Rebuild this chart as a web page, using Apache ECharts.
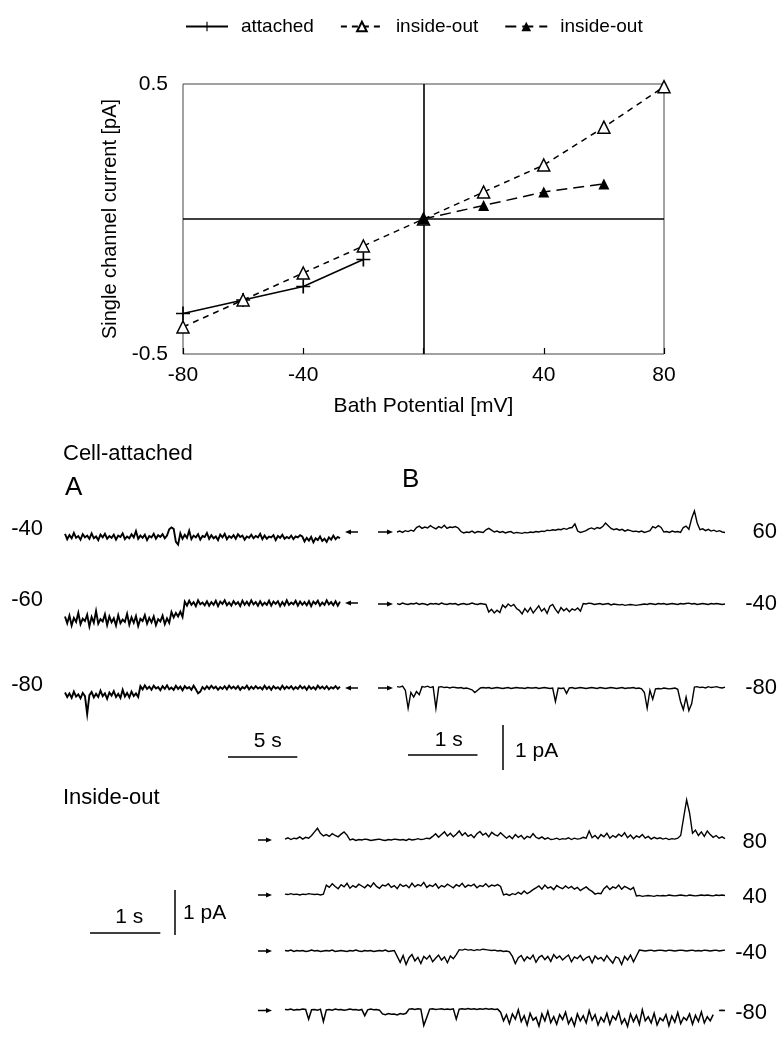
<!DOCTYPE html>
<html><head><meta charset="utf-8">
<script src="https://cdn.jsdelivr.net/npm/echarts@6/dist/echarts.min.js"></script>
<style>html,body{margin:0;padding:0;background:#fff}#c{width:781px;height:1045px}</style>
</head><body><div id="c"></div>
<script>
// ---------- I/V plot data ----------
const ivPotential = [-80,-60,-40,-20,0,20,40,60,80];
const attachedPotential = [-80,-60,-40,-20];
const attachedCurrent = [-0.35,-0.30,-0.25,-0.15];
const insideOutOpenCurrent = [-0.40,-0.30,-0.20,-0.10,0,0.10,0.20,0.34,0.49];
const insideOutFilledPotential = [0,20,40,60];
const insideOutFilledCurrent = [0,0.05,0.10,0.13];
const ivXTickLabels = [-80,-40,40,80];
const ivYTickLabels = [-0.5,0.5];

// ---------- single-channel traces (pA, relative to closed level) ----------
const dtA = 0.16;   // s per sample, panel A
const dtB = 0.04;   // s per sample, panel B
const dtIO = 0.042; // s per sample, inside-out

const traceA_m40 = [-0.04,-0.16,-0.07,-0.14,-0.02,-0.13,-0.09,-0.17,-0.05,-0.12,-0.08,-0.15,-0.03,-0.14,-0.1,-0.18,-0.06,-0.12,-0.04,-0.15,-0.09,-0.13,-0.06,-0.17,-0.08,-0.11,-0.03,-0.16,-0.1,-0.14,-0.05,-0.12,0.02,-0.15,-0.08,-0.13,-0.06,-0.18,-0.09,-0.12,-0.04,-0.15,-0.07,-0.11,-0.05,-0.14,-0.08,
0.06,0.1,0.07,-0.22,-0.28,
-0.03,-0.15,-0.06,-0.13,0.03,-0.16,-0.08,-0.12,-0.05,-0.17,-0.09,-0.11,-0.02,-0.15,-0.07,-0.14,-0.1,-0.18,-0.06,-0.12,-0.04,-0.16,-0.09,-0.13,-0.07,-0.15,-0.05,-0.11,-0.08,-0.17,-0.1,-0.13,-0.06,-0.14,-0.09,-0.12,-0.04,-0.16,-0.08,-0.15,-0.1,-0.12,-0.07,-0.18,-0.09,-0.13,-0.06,-0.15,-0.11,-0.14,-0.08,-0.16,-0.1,-0.12,-0.07,
-0.1,-0.21,-0.13,-0.19,-0.11,-0.23,-0.14,-0.18,-0.1,-0.2,-0.15,-0.22,-0.12,-0.17,-0.08,-0.16,-0.11,-0.14];
const traceA_m60 = [-0.3,-0.45,-0.28,-0.5,-0.33,-0.42,-0.22,-0.47,-0.35,-0.4,-0.26,-0.52,-0.31,-0.44,-0.18,-0.46,-0.36,-0.41,-0.25,-0.49,-0.3,-0.43,-0.34,-0.5,-0.27,-0.45,-0.37,-0.42,-0.24,-0.48,-0.32,-0.44,-0.29,-0.51,-0.35,-0.4,-0.27,-0.46,-0.33,-0.43,-0.3,-0.49,-0.36,-0.41,-0.28,-0.47,-0.34,-0.44,
-0.2,-0.32,-0.22,-0.3,-0.19,-0.31,
0.03,-0.06,0.05,-0.04,0.02,-0.07,0.06,-0.03,0.01,-0.05,0.04,-0.06,0.02,-0.04,0.05,-0.07,0.03,-0.02,0.06,-0.05,0.01,-0.06,0.04,-0.03,0.02,-0.07,0.05,-0.04,0.03,-0.05,0.06,-0.03,0.02,-0.06,0.04,-0.05,0.01,-0.04,0.05,-0.06,0.03,-0.02,0.04,-0.07,0.02,-0.05,0.06,-0.04,0.01,-0.03,0.05,-0.06,0.03,-0.04,0.02,-0.05,0.04,-0.07,0.03,-0.02,0.05,-0.06,0.01,-0.04,0.06,-0.03,0.02,-0.05,0.04,-0.06,0.03];
const traceA_m80 = [-0.1,-0.2,-0.12,-0.22,-0.08,-0.19,-0.14,-0.23,-0.11,-0.18,-0.58,-0.16,-0.09,-0.21,-0.13,-0.2,-0.06,-0.18,-0.12,-0.24,-0.1,-0.17,-0.07,-0.2,-0.13,-0.22,-0.04,-0.19,-0.11,-0.21,-0.08,-0.18,-0.12,-0.2,
0.04,-0.03,0.06,-0.02,0.03,-0.04,0.05,-0.01,0.02,-0.05,0.04,-0.02,0.06,-0.03,0.01,-0.04,0.05,-0.02,0.03,-0.05,0.04,-0.01,0.02,-0.04,0.05,-0.03,-0.12,-0.08,0.02,-0.03,0.04,-0.02,0.05,-0.01,0.03,-0.04,0.02,-0.02,0.04,-0.03,0.05,-0.01,0.03,-0.02,0.04,-0.04,0.02,-0.01,0.05,-0.03,0.03,-0.02,0.04,-0.01,0.02,-0.03,0.05,-0.02,0.03,-0.04,0.04,-0.01,0.02,-0.03,0.05,-0.02,0.03,-0.01,0.04,-0.03,0.02,-0.02,0.05,-0.01,0.03,-0.04,0.04,-0.02,0.02,-0.03,0.05,-0.01,0.03,-0.02,0.04,-0.03,0.02,-0.01,0.04,-0.02,0.03];

const traceB_60 = [0.0,0.02,-0.01,0.03,0.01,0.04,0.02,
0.10,0.13,0.08,0.11,0.09,0.14,0.10,0.07,0.12,0.09,0.15,0.08,0.11,0.10,0.12,0.09,
0.01,-0.02,0.0,-0.01,0.02,-0.02,0.01,0.0,-0.01,
0.05,0.08,0.04,
0.0,0.02,-0.01,0.01,-0.02,0.0,0.01,-0.03,-0.01,-0.02,-0.03,-0.01,-0.02,0.0,-0.01,0.01,0.0,
0.02,0.01,0.04,0.03,0.05,0.04,0.06,0.05,0.08,0.06,0.09,0.1,0.18,
0.02,-0.01,0.01,0.03,
0.07,0.09,0.06,0.1,0.08,0.12,0.2,0.14,
0.08,0.05,0.07,0.04,0.06,0.02,0.05,0.03,0.01,0.02,0.0,0.02,-0.01,0.01,0.03,
0.12,0.09,0.14,0.1,
0.0,0.01,-0.01,0.02,0.0,0.01,-0.01,
0.1,0.13,0.06,
0.3,0.47,0.2,
0.05,0.07,0.03,0.06,0.02,0.04,0.01,0.03,0.0,-0.01];
const traceB_m40 = [0.01,-0.01,0.02,0.0,-0.01,0.01,0.0,0.02,-0.01,0.01,0.0,-0.02,0.01,0.0,0.01,-0.01,0.02,0.0,-0.01,0.01,0.0,0.01,-0.02,0.0,0.01,-0.01,0.0,0.02,0.0,-0.01,0.01,0.0,-0.01,
-0.18,-0.12,-0.2,-0.14,-0.19,
-0.02,-0.08,0.0,-0.05,-0.01,-0.1,
-0.14,-0.22,-0.1,-0.18,-0.08,-0.2,-0.12,-0.04,-0.16,-0.1,-0.21,
-0.05,-0.01,
-0.12,-0.2,-0.08,-0.15,-0.1,-0.17,-0.11,-0.14,-0.09,-0.16,
0.01,0.0,0.02,0.01,-0.01,0.0,0.01,-0.01,0.0,0.01,-0.02,0.0,-0.01,-0.02,-0.01,-0.03,-0.02,-0.01,-0.02,-0.03,-0.02,-0.01,0.0,-0.01,0.01,0.0,-0.01,0.01,0.0,0.01,-0.01,0.0,0.01,0.0,-0.01,0.01,0.0,0.01,0.02,0.0,0.01,-0.01,0.0,0.01,0.0,-0.01,0.01,0.0,0.01,0.0,-0.01,0.0];
const traceB_m80 = [0.03,0.02,0.04,-0.05,-0.45,-0.1,-0.2,-0.08,-0.15,
0.03,0.02,0.04,0.01,0.03,-0.45,
0.02,0.03,0.01,0.02,0.0,0.02,0.01,0.0,0.01,-0.01,0.0,-0.02,-0.04,-0.1,-0.05,
0.0,0.01,0.0,0.01,-0.01,0.0,0.01,0.0,-0.01,0.0,0.01,-0.01,0.0,0.01,0.0,0.0,-0.01,0.01,0.0,0.0,0.01,-0.01,0.0,0.01,0.0,-0.01,0.0,
-0.3,0.0,-0.01,0.0,-0.12,
0.0,0.01,-0.01,0.0,0.01,0.0,-0.01,0.0,0.01,0.0,-0.01,0.01,0.0,-0.01,0.0,0.01,0.0,-0.01,0.0,0.01,-0.01,0.0,0.0,0.01,-0.01,0.0,-0.02,
-0.1,-0.45,-0.05,-0.25,
-0.02,-0.01,-0.02,0.0,-0.01,-0.02,-0.01,0.0,-0.03,
-0.3,-0.48,-0.2,-0.5,-0.35,
0.02,0.03,0.01,0.02,0.0,0.03,0.01,0.02,0.03,0.01,0.0,0.02];

const traceIO_80 = [0.02,0.05,0.01,0.04,0.03,0.07,0.02,0.06,0.04,
0.1,0.18,0.26,0.15,0.09,
0.12,0.08,0.14,0.1,0.07,0.13,0.18,0.11,
0.0,0.02,-0.01,0.01,0.0,0.02,0.01,-0.01,0.0,0.01,0.02,0.0,-0.01,0.01,0.0,0.02,0.01,0.0,0.01,-0.01,0.02,0.0,0.01,0.03,0.01,0.02,0.04,0.03,
0.08,0.14,0.06,0.12,0.18,0.09,0.15,0.07,0.13,0.2,0.1,0.16,0.08,0.12,0.05,0.14,0.19,0.11,0.15,0.07,0.17,0.12,0.09,0.16,0.1,
0.04,0.09,0.03,0.12,0.06,0.1,0.02,0.08,0.05,0.14,0.06,0.03,0.07,0.02,0.05,0.01,
0.02,0.04,0.01,0.03,0.02,0.05,0.01,0.04,0.02,0.03,0.06,0.04,0.2,
0.05,0.1,0.03,0.12,0.07,0.15,0.04,0.1,0.06,0.13,0.08,0.16,0.05,0.11,0.03,0.09,0.06,0.12,0.04,0.08,0.02,0.06,0.03,0.05,0.02,0.04,0.01,0.03,0.02,0.04,
0.1,0.5,0.89,0.6,
0.15,0.22,0.1,0.18,0.08,0.2,0.12,0.06,0.1,0.04,0.07,0.03];
const traceIO_40 = [0.02,0.01,0.03,0.01,0.02,0.0,0.02,0.01,0.03,0.02,0.01,0.02,0.0,0.02,
0.22,0.17,0.25,0.19,0.14,0.23,0.18,0.26,0.15,0.21,0.17,0.24,0.2,0.16,0.23,0.18,0.27,0.19,0.15,0.22,0.2,0.25,0.17,0.21,0.14,0.24,0.19,0.22,0.16,0.26,0.18,0.23,0.2,0.28,0.17,0.22,0.19,0.25,0.15,0.21,0.18,0.24,0.2,0.16,0.23,0.19,0.26,0.17,0.22,0.2,0.24,0.16,0.21,0.19,0.25,0.18,0.22,0.2,0.23,0.19,
0.0,0.02,-0.01,0.03,0.01,0.06,0.02,0.09,0.03,0.07,0.12,
0.16,0.2,0.13,0.22,0.15,0.18,0.12,0.21,0.17,0.14,0.2,0.15,0.19,0.13,0.17,0.1,0.14,0.18,0.12,0.08,
0.02,0.04,0.03,
0.14,0.2,0.12,0.18,0.15,0.22,0.13,0.19,0.16,0.12,0.17,
-0.02,-0.01,-0.03,-0.02,-0.01,-0.02,-0.03,-0.01,-0.02,-0.01,-0.02,0.0,-0.01,-0.02,-0.01,0.0,-0.01,-0.02,0.0,-0.01,-0.02,-0.01,0.0,-0.01,0.0,-0.01,-0.02,0.0,-0.01,0.0,-0.01];
const traceIO_m40 = [0.01,0.0,0.02,-0.01,0.01,0.0,0.01,-0.01,0.0,0.02,0.0,0.01,-0.01,0.0,0.01,0.0,0.02,-0.01,0.0,0.01,0.0,-0.01,0.01,0.0,0.02,0.0,-0.01,0.01,0.0,0.01,-0.01,0.0,0.01,0.0,0.02,-0.01,0.0,0.01,
-0.12,-0.25,-0.1,-0.3,-0.15,-0.08,-0.22,-0.14,-0.28,-0.12,-0.18,-0.1,-0.24,-0.16,-0.09,-0.2,-0.13,-0.26,-0.11,-0.17,-0.08,
0.03,0.02,0.04,0.02,0.03,0.01,0.03,0.02,0.04,0.03,0.02,0.01,0.02,0.0,0.01,-0.01,0.0,-0.02,
-0.12,-0.28,-0.15,-0.1,-0.22,-0.13,-0.18,-0.09,-0.25,-0.14,-0.1,-0.19,-0.12,-0.23,-0.08,-0.16,-0.11,-0.2,-0.14,-0.09,-0.24,-0.13,-0.17,-0.1,-0.21,-0.15,-0.12,-0.26,-0.11,-0.18,-0.14,-0.22,-0.1,-0.19,-0.27,-0.13,-0.16,-0.3,-0.12,-0.2,-0.09,-0.24,-0.11,
0.02,0.01,0.0,0.01,0.02,0.0,0.01,0.02,0.01,0.0,0.02,0.01,0.0,0.01,0.02,0.01,0.0,0.01,0.02,0.0,0.01,0.0,0.02,0.01,0.0,0.01,0.02,0.0,0.01,0.02];
const traceIO_m80 = [0.03,0.02,0.04,0.01,0.03,0.02,0.04,0.03,-0.25,0.02,0.03,0.01,0.04,-0.32,0.02,0.03,0.01,0.04,0.02,0.03,0.01,0.02,0.04,0.02,0.03,0.01,0.03,-0.15,0.02,0.04,0.02,0.03,0.01,
-0.1,-0.12,-0.09,-0.11,-0.1,-0.13,-0.09,-0.11,-0.08,
0.04,0.05,0.03,0.05,0.04,
-0.43,-0.2,
0.04,0.05,0.03,0.04,0.05,0.03,0.04,0.03,0.05,
-0.25,
0.04,0.05,0.04,0.06,0.04,0.05,0.03,0.05,0.04,0.06,0.04,0.05,0.03,0.04,
-0.05,-0.3,-0.12,-0.38,-0.1,-0.25,0.02,-0.32,-0.15,-0.42,-0.08,-0.28,-0.2,-0.45,-0.1,-0.3,-0.02,-0.35,-0.18,-0.4,-0.12,-0.26,-0.05,-0.38,-0.22,-0.44,-0.1,-0.3,-0.15,-0.36,0.0,-0.28,-0.12,-0.42,-0.2,-0.33,-0.08,-0.4,-0.16,-0.27,-0.04,-0.38,-0.24,-0.46,-0.1,-0.32,-0.14,-0.4,0.02,-0.3,-0.18,-0.36,-0.08,-0.42,-0.22,-0.3,-0.12,-0.44,-0.16,-0.34,-0.06,-0.38,-0.2,-0.28,-0.1,-0.4,-0.14,-0.32,-0.04,-0.36,-0.18,-0.3,-0.12,
null,0.0,0.01,0.0];

// ---------- layout ----------
const FONT = '"Liberation Sans", Arial, Helvetica, sans-serif';
const PA_PX = 45; // half-height of each trace grid (1 pA)
const traces = [
  {data: traceA_m40, dt: dtA, left: 65,  width: 275, base: 532, label: '-40', side: 'A', lw: 1.9},
  {data: traceA_m60, dt: dtA, left: 65,  width: 275, base: 603, label: '-60', side: 'A', lw: 1.9},
  {data: traceA_m80, dt: dtA, left: 65,  width: 275, base: 688, label: '-80', side: 'A', lw: 1.9},
  {data: traceB_60,  dt: dtB, left: 397, width: 328, base: 532, label: '60',  side: 'B', lw: 1.4},
  {data: traceB_m40, dt: dtB, left: 397, width: 328, base: 604, label: '-40', side: 'B', lw: 1.4},
  {data: traceB_m80, dt: dtB, left: 397, width: 328, base: 688, label: '-80', side: 'B', lw: 1.4},
  {data: traceIO_80,  dt: dtIO, left: 285, width: 440, base: 840, label: '80',  side: 'IO', lw: 1.4},
  {data: traceIO_40,  dt: dtIO, left: 285, width: 440, base: 895, label: '40',  side: 'IO', lw: 1.4},
  {data: traceIO_m40, dt: dtIO, left: 285, width: 440, base: 951, label: '-40', side: 'IO', lw: 1.4},
  {data: traceIO_m80, dt: dtIO, left: 285, width: 440, base: 1021, label: '-80', side: 'IO', lw: 1.5}
];

const plusPath = 'path://M4.4,0H5.6V4.4H10V5.6H5.6V10H4.4V5.6H0V4.4H4.4Z';

const grids = [{left: 183, top: 84, width: 481, height: 270, show: true, borderColor: '#444', borderWidth: 1, backgroundColor: 'transparent'}];
const xAxes = [{
  gridIndex: 0, type: 'value', min: -80, max: 80, interval: 40,
  axisLine: {show: false, onZero: false}, splitLine: {show: false},
  axisTick: {show: true, inside: true, length: 6, lineStyle: {color: '#000', width: 1.2}},
  axisLabel: {color: '#000', fontSize: 21, fontFamily: FONT, margin: 11,
    formatter: v => ivXTickLabels.includes(v) ? String(v) : ''},
  name: 'Bath Potential [mV]', nameLocation: 'middle', nameGap: 42,
  nameTextStyle: {color: '#000', fontSize: 21, fontFamily: FONT}
}];
const yAxes = [{
  gridIndex: 0, type: 'value', min: -0.5, max: 0.5, interval: 0.5,
  axisLine: {show: false, onZero: false}, splitLine: {show: false}, axisTick: {show: false},
  axisLabel: {color: '#000', fontSize: 21, fontFamily: FONT, margin: 15,
    formatter: v => ivYTickLabels.includes(v) ? String(v) : ''},
  name: 'Single channel current [pA]', nameLocation: 'middle', nameGap: 62, nameRotate: 90,
  nameTextStyle: {color: '#000', fontSize: 20, fontFamily: FONT}
}];
const series = [
  {name: 'attached', type: 'line', xAxisIndex: 0, yAxisIndex: 0,
   data: attachedPotential.map((x, i) => [x, attachedCurrent[i]]),
   symbol: plusPath, symbolSize: 14, itemStyle: {color: '#000'},
   lineStyle: {color: '#000', width: 1.5, type: 'solid'}, z: 4,
   markLine: {silent: true, symbol: 'none', label: {show: false}, animation: false,
     lineStyle: {color: '#000', width: 1.6, type: 'solid'},
     data: [{xAxis: 0}, {yAxis: 0}]}},
  {name: 'inside-out', type: 'line', xAxisIndex: 0, yAxisIndex: 0,
   data: ivPotential.map((x, i) => [x, insideOutOpenCurrent[i]]),
   symbol: 'triangle', symbolSize: 12, z: 5,
   itemStyle: {color: '#fff', borderColor: '#000', borderWidth: 1.5},
   lineStyle: {color: '#000', width: 1.5, type: [6, 5]}},
  {name: 'inside-out ', type: 'line', xAxisIndex: 0, yAxisIndex: 0,
   data: insideOutFilledPotential.map((x, i) => [x, insideOutFilledCurrent[i]]),
   symbol: 'triangle', symbolSize: 11, z: 6,
   itemStyle: {color: '#000'},
   lineStyle: {color: '#000', width: 1.5, type: [11, 6]}}
];

traces.forEach((tr, k) => {
  const gi = k + 1;
  grids.push({left: tr.left, width: tr.width, top: tr.base - PA_PX, height: 2 * PA_PX});
  xAxes.push({gridIndex: gi, type: 'value', min: 0, max: 'dataMax', show: false});
  yAxes.push({gridIndex: gi, type: 'value', min: -1, max: 1, show: false});
  series.push({type: 'line', xAxisIndex: gi, yAxisIndex: gi, showSymbol: false, symbol: 'none',
    silent: true, connectNulls: false,
    data: tr.data.map((v, i) => [+(i * tr.dt).toFixed(4), v === null ? '-' : v]),
    lineStyle: {color: '#000', width: tr.lw, join: 'miter'}});
});

const chart = echarts.init(document.getElementById('c'), null, {renderer: 'canvas'});
chart.setOption({
  animation: false,
  backgroundColor: '#fff',
  textStyle: {fontFamily: FONT},
  legend: {
    top: 12, left: 180, itemWidth: 42, itemHeight: 12, itemGap: 26,
    textStyle: {color: '#000', fontSize: 19, fontFamily: FONT, padding: [0, 0, 0, 8]},
    data: ['attached', 'inside-out', 'inside-out ']
  },
  grid: grids, xAxis: xAxes, yAxis: yAxes, series: series
});

// ---------- annotations placed through the axes' own scales ----------
function px(gi, t, v) { return chart.convertToPixel({gridIndex: gi}, [t, v]); }
const g = [];
function text(str, x, y, size, align) {
  g.push({type: 'text', x: x, y: y, silent: true,
    style: {text: str, fill: '#000', font: size + 'px ' + FONT, textAlign: align || 'left', textVerticalAlign: 'middle'}});
}
function hline(x1, x2, y, w) {
  g.push({type: 'line', silent: true, shape: {x1: x1, y1: y, x2: x2, y2: y}, style: {stroke: '#000', lineWidth: w || 1.5}});
}
function vline(x, y1, y2, w) {
  g.push({type: 'line', silent: true, shape: {x1: x, y1: y1, x2: x, y2: y2}, style: {stroke: '#000', lineWidth: w || 1.5}});
}
function arrow(tail, head, y) {
  const d = head > tail ? 1 : -1;
  hline(tail, head - d * 4, y, 1.5);
  g.push({type: 'polygon', silent: true,
    shape: {points: [[head, y], [head - d * 6, y - 2.6], [head - d * 6, y + 2.6]]}, style: {fill: '#000'}});
}

traces.forEach((tr, k) => {
  const gi = k + 1;
  const p0 = px(gi, 0, 0);
  const yb = p0[1];
  const xs = p0[0];
  const xe = xs + tr.width;
  if (tr.side === 'A') {
    arrow(xe + 18, xe + 5, yb);
    text(tr.label, 43, yb - 3, 22, 'right');
  } else if (tr.side === 'B') {
    arrow(xs - 19, xs - 4, yb);
    text(tr.label, 777, yb, 22, 'right');
  } else {
    arrow(xs - 27, xs - 13, yb);
    text(tr.label, 767, yb + 2, 22, 'right');
  }
});

text('Cell-attached', 63, 454, 22);
text('A', 65, 488, 26);
text('B', 402, 480, 26);
text('Inside-out', 63, 798, 22);

// scale bars: lengths from the trace axes
const len5sA = px(1, 5, 0)[0] - px(1, 0, 0)[0];
const len1sB = px(4, 1, 0)[0] - px(4, 0, 0)[0];
const len1pAB = px(4, 0, 0)[1] - px(4, 0, 1)[1];
const len1sIO = px(7, 1, 0)[0] - px(7, 0, 0)[0];
const len1pAIO = px(7, 0, 0)[1] - px(7, 0, 1)[1];

hline(228, 228 + len5sA, 757, 1.5);
text('5 s', 228 + len5sA / 2 + 5, 741, 21, 'center');
hline(408, 408 + len1sB, 755, 1.5);
text('1 s', 408 + len1sB / 2 + 6, 740, 21, 'center');
vline(503, 770 - len1pAB, 770, 1.5);
text('1 pA', 515, 751, 21);

hline(90, 90 + len1sIO, 933, 1.5);
text('1 s', 90 + len1sIO / 2 + 4, 917, 21, 'center');
vline(175, 935 - len1pAIO, 935, 1.5);
text('1 pA', 183, 913, 21);

chart.setOption({graphic: g});
</script>
</body></html>
